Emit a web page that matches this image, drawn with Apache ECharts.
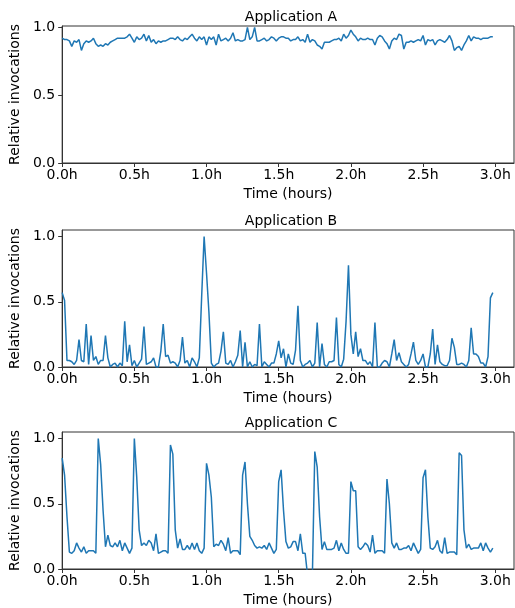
<!DOCTYPE html>
<html>
<head>
<meta charset="utf-8">
<script src="https://cdn.jsdelivr.net/npm/echarts@6/dist/echarts.min.js"></script>
<style>
  html, body { margin: 0; padding: 0; background: #fff; }
  #chart { width: 515px; height: 608px; }
</style>
</head>
<body>
<div id="chart"></div>
<script>
// 应用调用量（每分钟一个采样点，共 180 分钟）
const appNames = ['Application A', 'Application B', 'Application C'];
const xTicks = [0, 0.5, 1.0, 1.5, 2.0, 2.5, 3.0];
const yTicks = [0, 0.5, 1.0];

const valuesA = [
  0.92, 0.91, 0.91, 0.90, 0.86, 0.90, 0.89, 0.91, 0.83, 0.88,
  0.90, 0.89, 0.90, 0.92, 0.88, 0.86, 0.87, 0.86, 0.88, 0.87,
  0.89, 0.90, 0.91, 0.92, 0.92, 0.92, 0.92, 0.93, 0.95, 0.92,
  0.89, 0.93, 0.91, 0.92, 0.95, 0.90, 0.94, 0.89, 0.91, 0.88,
  0.90, 0.89, 0.90, 0.90, 0.91, 0.92, 0.92, 0.91, 0.93, 0.91,
  0.90, 0.92, 0.91, 0.93, 0.95, 0.92, 0.90, 0.93, 0.91, 0.93,
  0.87, 0.93, 0.91, 0.93, 0.87, 0.95, 0.90, 0.91, 0.92, 0.90,
  0.92, 0.96, 0.90, 0.91, 0.90, 0.90, 0.91, 1.00, 0.91, 0.93,
  1.00, 0.90, 0.90, 0.91, 0.92, 0.90, 0.91, 0.93, 0.92, 0.90,
  0.92, 0.93, 0.93, 0.92, 0.92, 0.90, 0.91, 0.91, 0.93, 0.90,
  0.91, 0.89, 0.95, 0.89, 0.91, 0.90, 0.87, 0.86, 0.84, 0.89,
  0.89, 0.89, 0.90, 0.91, 0.91, 0.92, 0.90, 0.95, 0.92, 0.94,
  0.98, 0.95, 0.93, 0.90, 0.92, 0.91, 0.91, 0.92, 0.91, 0.91,
  0.87, 0.92, 0.94, 0.93, 0.90, 0.88, 0.84, 0.90, 0.92, 0.91,
  0.95, 0.94, 0.84, 0.89, 0.89, 0.90, 0.89, 0.90, 0.91, 0.90,
  0.94, 0.87, 0.91, 0.90, 0.91, 0.87, 0.90, 0.91, 0.90, 0.89,
  0.91, 0.94, 0.90, 0.83, 0.85, 0.86, 0.83, 0.87, 0.90, 0.94,
  0.90, 0.93, 0.92, 0.92, 0.91, 0.92, 0.92, 0.92, 0.93, 0.93
];

const valuesB = [
  0.57, 0.51, 0.05, 0.05, 0.04, 0.02, 0.05, 0.21, 0.05, 0.04,
  0.33, 0.02, 0.24, 0.05, 0.08, 0.02, 0.05, 0.05, 0.24, 0.07,
  0.00, 0.02, 0.03, 0.00, 0.03, 0.01, 0.35, 0.04, 0.17, 0.01,
  0.05, 0.00, 0.03, 0.06, 0.31, 0.02, 0.03, 0.04, 0.07, 0.00,
  0.00, 0.12, 0.33, 0.08, 0.09, 0.03, 0.04, 0.03, 0.00, 0.05,
  0.23, 0.03, 0.05, 0.00, 0.07, 0.04, 0.00, 0.07, 0.55, 1.00,
  0.72, 0.42, 0.03, 0.00, 0.02, 0.03, 0.12, 0.27, 0.03, 0.02,
  0.05, 0.00, 0.04, 0.09, 0.28, 0.00, 0.19, 0.00, 0.04, 0.00,
  0.02, 0.01, 0.33, 0.00, 0.04, 0.02, 0.00, 0.03, 0.03, 0.10,
  0.20, 0.07, 0.14, 0.00, 0.10, 0.03, 0.02, 0.13, 0.47, 0.05,
  0.00, 0.02, 0.03, 0.05, 0.00, 0.03, 0.34, 0.00, 0.18, 0.02,
  0.00, 0.04, 0.04, 0.05, 0.38, 0.02, 0.00, 0.06, 0.35, 0.78,
  0.25, 0.10, 0.27, 0.08, 0.14, 0.05, 0.05, 0.02, 0.04, 0.00,
  0.34, 0.00, 0.00, 0.03, 0.05, 0.04, 0.00, 0.10, 0.21, 0.05,
  0.11, 0.04, 0.02, 0.00, 0.02, 0.10, 0.19, 0.05, 0.02, 0.05,
  0.10, 0.00, 0.00, 0.10, 0.29, 0.02, 0.17, 0.04, 0.02, 0.01,
  0.01, 0.05, 0.22, 0.15, 0.02, 0.02, 0.03, 0.02, 0.00, 0.05,
  0.30, 0.10, 0.10, 0.08, 0.03, 0.03, 0.00, 0.08, 0.53, 0.57
];

const valuesC = [
  0.85, 0.72, 0.40, 0.13, 0.12, 0.14, 0.20, 0.16, 0.13, 0.17,
  0.12, 0.14, 0.14, 0.14, 0.12, 1.00, 0.80, 0.45, 0.17, 0.26,
  0.18, 0.17, 0.20, 0.17, 0.22, 0.14, 0.20, 0.16, 0.12, 0.16,
  1.00, 0.70, 0.30, 0.18, 0.20, 0.18, 0.22, 0.20, 0.14, 0.27,
  0.12, 0.13, 0.14, 0.14, 0.12, 0.95, 0.88, 0.30, 0.16, 0.23,
  0.15, 0.15, 0.18, 0.15, 0.20, 0.15, 0.20, 0.14, 0.12, 0.16,
  0.81, 0.72, 0.55, 0.17, 0.19, 0.18, 0.22, 0.19, 0.14, 0.24,
  0.12, 0.14, 0.14, 0.14, 0.11, 0.72, 0.82, 0.50, 0.25, 0.22,
  0.18, 0.16, 0.17, 0.16, 0.18, 0.15, 0.20, 0.16, 0.12, 0.15,
  0.67, 0.76, 0.45, 0.21, 0.16, 0.17, 0.21, 0.21, 0.14, 0.27,
  0.12, 0.12, -0.05, -0.10, -0.05, 0.90, 0.78, 0.40, 0.15, 0.21,
  0.15, 0.15, 0.15, 0.16, 0.22, 0.14, 0.20, 0.15, 0.12, 0.12,
  0.67, 0.60, 0.60, 0.17, 0.15, 0.17, 0.20, 0.18, 0.13, 0.26,
  0.12, 0.14, 0.14, 0.14, 0.12, 0.69, 0.50, 0.20, 0.16, 0.20,
  0.15, 0.15, 0.16, 0.16, 0.18, 0.14, 0.20, 0.16, 0.12, 0.15,
  0.70, 0.76, 0.40, 0.16, 0.15, 0.17, 0.22, 0.14, 0.12, 0.24,
  0.12, 0.13, 0.13, 0.13, 0.11, 0.89, 0.87, 0.30, 0.16, 0.19,
  0.15, 0.16, 0.16, 0.16, 0.20, 0.14, 0.20, 0.16, 0.13, 0.16
];

const seriesValues = [valuesA, valuesB, valuesC];
const yMax = [1.01, 1.05, 1.05];

// 各子图位置（像素）
const gridTops = [26, 230, 432];
const gridHeight = 137;
const gridLeft = 58;
const gridWidth = 456;

const font = 'DejaVu Sans';
const fontSize = 14;
const lineColor = '#1f77b4';
const frameColor = '#333';

function isTick(v, ticks) {
  return ticks.some(t => Math.abs(t - v) < 1e-6);
}

const chart = echarts.init(document.getElementById('chart'));

const option = {
  animation: false,
  backgroundColor: '#fff',
  title: appNames.map((name, i) => ({
    text: name,
    left: gridLeft + gridWidth / 2,
    top: gridTops[i] - 21,
    textAlign: 'center',
    textStyle: { fontFamily: font, fontSize: fontSize, fontWeight: 'normal', color: '#000' }
  })),
  grid: gridTops.map(top => ({
    left: gridLeft,
    top: top,
    width: gridWidth,
    height: gridHeight,
    show: true,
    borderColor: frameColor,
    borderWidth: 1,
    containLabel: false
  })),
  xAxis: gridTops.map((_, i) => ({
    type: 'value',
    gridIndex: i,
    min: 0,
    max: 3.13,
    interval: 0.5,
    name: 'Time (hours)',
    nameLocation: 'middle',
    nameGap: 24,
    nameTextStyle: { fontFamily: font, fontSize: fontSize, color: '#000' },
    splitLine: { show: false },
    axisLine: { show: true, lineStyle: { color: frameColor, width: 1 } },
    axisTick: { show: true, length: 4, inside: false, lineStyle: { color: frameColor } },
    axisLabel: {
      fontFamily: font, fontSize: fontSize, color: '#000', margin: 5,
      showMaxLabel: false,
      formatter: v => isTick(v, xTicks) ? v.toFixed(1) + 'h' : ''
    }
  })),
  yAxis: gridTops.map((_, i) => ({
    type: 'value',
    gridIndex: i,
    min: 0,
    max: yMax[i],
    interval: 0.5,
    name: 'Relative invocations',
    nameLocation: 'middle',
    nameGap: 32,
    nameTextStyle: { fontFamily: font, fontSize: fontSize, color: '#000' },
    splitLine: { show: false },
    axisLine: { show: true, lineStyle: { color: frameColor, width: 1 } },
    axisTick: { show: true, length: 4, inside: false, lineStyle: { color: frameColor } },
    axisLabel: {
      fontFamily: font, fontSize: fontSize, color: '#000', margin: 7,
      showMaxLabel: false,
      formatter: v => isTick(v, yTicks) ? v.toFixed(1) : ''
    }
  })),
  series: seriesValues.map((vals, i) => ({
    type: 'line',
    xAxisIndex: i,
    yAxisIndex: i,
    data: vals.map((v, k) => [k / 60, v]),
    showSymbol: false,
    clip: true,
    lineStyle: { color: lineColor, width: 1.5 },
    itemStyle: { color: lineColor }
  }))
};

chart.setOption(option);
</script>
</body>
</html>
